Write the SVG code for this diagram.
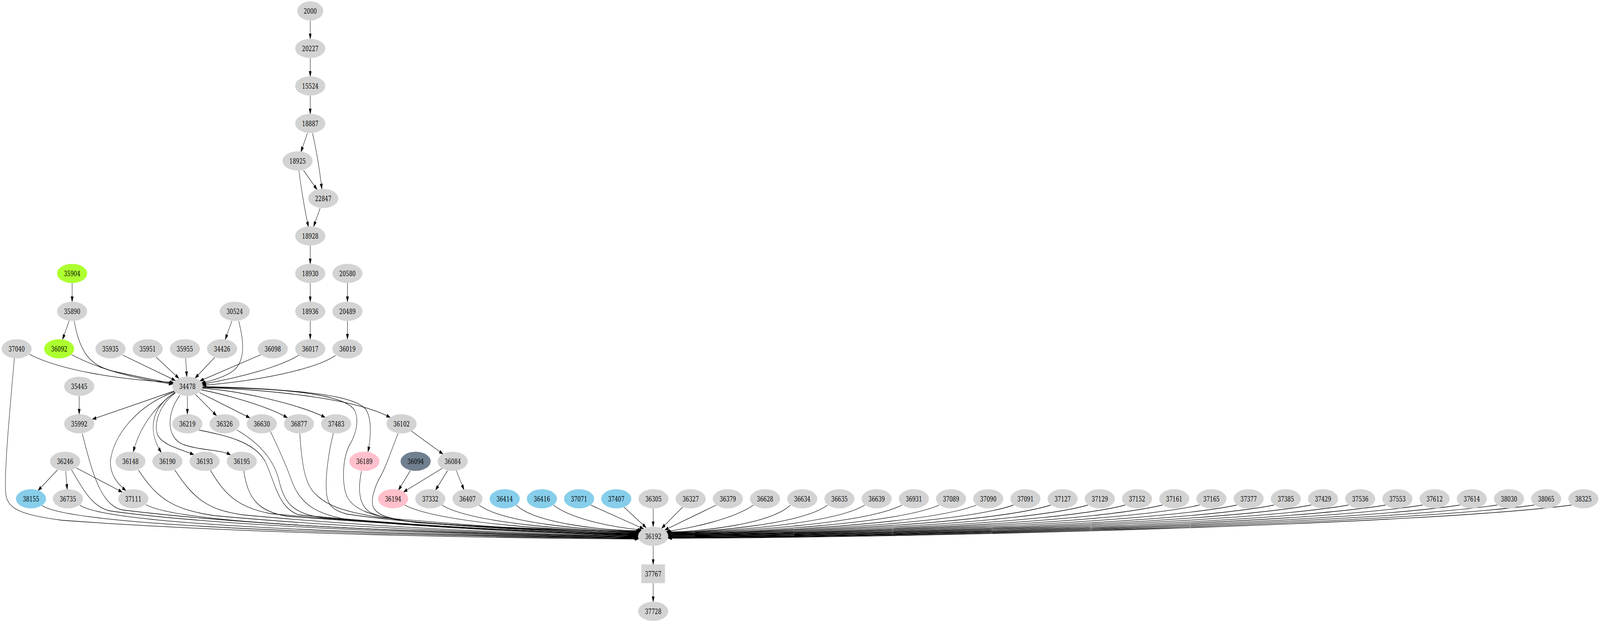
<svg xmlns="http://www.w3.org/2000/svg" width="5678" height="1595" viewBox="0 0 5678 1595" preserveAspectRatio="none">
<style>
svg{width:100vw;height:100vh}
ellipse,rect{stroke:none}
.gy{fill:#d3d3d3}.pk{fill:#ffc0cb}.sb{fill:#87ceeb}.gr{fill:#adff2f}.sl{fill:#708090}
text{font-family:"DejaVu Serif","Liberation Serif","Times New Roman",serif;font-size:18.7px;text-anchor:middle;fill:#000}
</style>
<defs>
<marker id="a" viewBox="0 0 13.5 9" markerWidth="13.5" markerHeight="9" refX="13.5" refY="4.5" orient="auto" markerUnits="userSpaceOnUse"><path d="M0,0L13.5,4.5L0,9Z" fill="#000" stroke="#000" stroke-width="0.8"/></marker>
</defs>
<rect width="5678" height="1595" fill="#fff"/>
<g id="edges" fill="none" stroke="#000" stroke-width="1.3" marker-end="url(#a)">
<path d="M1101,52.5L1101,99.5"/>
<path d="M1101,148.5L1101,195.5"/>
<path d="M1101,244.5L1101,291.5"/>
<path d="M1091,341L1068,389"/>
<path d="M1109,341C1120,375 1134,430 1142,484"/>
<path d="M1077,436L1125,485.5"/>
<path d="M1061,437C1068,480 1082,540 1094.5,581"/>
<path d="M1136,533L1113,580"/>
<path d="M1101,628.5L1101,675.5"/>
<path d="M1101,724.5L1101,772.5"/>
<path d="M1101,821.5L1101,868.5"/>
<path d="M1233,724.5L1233,772.5"/>
<path d="M1233,821.5L1233,868.5"/>
<path d="M256,724.5L256,772.5"/>
<path d="M245.5,821.5L222,869"/>
<path d="M263,822C285,905 320,935 400,950C480,963 560,975 614,981.5"/>
<path d="M254,908C350,945 480,970 613,983.5"/>
<path d="M104,907C220,950 430,972 616,979"/>
<path d="M435,909L622.4,974.2"/>
<path d="M553.6,914L634.9,968.7"/>
<path d="M658.8,917.5L662.9,964.5"/>
<path d="M762,915L692.5,968"/>
<path d="M822.7,821.7L799.5,869"/>
<path d="M847,822C868,880 868,925 830,948C800,965 750,975 715,980.5"/>
<path d="M926,908L709.3,975.3"/>
<path d="M1061,909C1000,937 860,966 717,983.5"/>
<path d="M1191,910C1120,945 920,975 718,986.5"/>
<path d="M281,1013.5L281,1060.5"/>
<path d="M665,1013.5L665,1060.5"/>
<path d="M618.6,1001L328,1073.3"/>
<path d="M694,1010L768.5,1064.3"/>
<path d="M708,1005L887,1069.8"/>
<path d="M714,998C800,1010 950,1040 1020,1069.5"/>
<path d="M717,994C850,1000 1060,1035 1154,1068.5"/>
<path d="M719,992C900,996 1250,1015 1385,1069"/>
<path d="M719,991C980,995 1260,1005 1300,1050C1320,1075 1316,1120 1306,1157"/>
<path d="M622,1004C570,1030 500,1080 473,1157"/>
<path d="M622,1005C540,1040 520,1100 572.6,1158.5"/>
<path d="M622,1006C560,1040 545,1090 560,1115C580,1140 640,1150 688,1164"/>
<path d="M638,1012C590,1060 590,1120 650,1138C720,1155 780,1150 818.4,1164.5"/>
<path d="M619,1003C480,1040 400,1120 392,1180C390,1210 410,1235 447,1256"/>
<path d="M204,1203L135,1256"/>
<path d="M233,1206L238.5,1253"/>
<path d="M271,1198L434,1260"/>
<path d="M1459,1103L1572,1162.5"/>
<path d="M1456,1205L1414,1255"/>
<path d="M1569.5,1199L1432,1259.5"/>
<path d="M1588,1205L1545.5,1255"/>
<path d="M1619.5,1205L1646.5,1254"/>
<path d="M51,917C35,1050 15,1200 20,1262C25,1302 70,1318 220,1332C900,1368 1800,1378 2266,1380"/>
<path d="M149,1294C220,1332 800,1366 2266,1379"/>
<path d="M283,1293C350,1330 900,1364 2265,1378"/>
<path d="M254,1203C300,1260 330,1298 390,1308C800,1350 1700,1372 2265,1377"/>
<path d="M292,1110C330,1220 360,1290 430,1305C900,1348 1700,1370 2265,1376"/>
<path d="M518,1292C600,1326 1000,1356 2265,1375"/>
<path d="M491,1203C560,1280 620,1305 760,1320C1200,1350 1800,1368 2264,1374"/>
<path d="M620,1203C690,1280 740,1305 860,1318C1300,1348 1800,1366 2264,1373"/>
<path d="M746,1203C800,1270 850,1300 960,1315C1400,1345 1850,1364 2264,1372"/>
<path d="M865,1205C880,1280 920,1310 1020,1322C1450,1345 1900,1363 2265,1371"/>
<path d="M706,1101C800,1115 900,1130 940,1180C975,1230 985,1300 1060,1318C1450,1345 1900,1362 2265,1370"/>
<path d="M841,1101C910,1130 970,1170 990,1230C1010,1290 1040,1315 1150,1326C1550,1350 1900,1362 2265,1369"/>
<path d="M960,1105C990,1150 1020,1200 1040,1240C1070,1290 1120,1318 1250,1332C1700,1355 2000,1364 2266,1368"/>
<path d="M1064,1110C1070,1180 1080,1240 1120,1265C1160,1295 1220,1310 1350,1325C1750,1350 2000,1362 2266,1367"/>
<path d="M1183,1109C1165,1160 1155,1220 1158,1255C1160,1290 1175,1305 1230,1316C1500,1345 1900,1360 2267,1366"/>
<path d="M719,990C960,993 1220,1005 1258,1050C1275,1075 1265,1110 1240,1140C1215,1175 1212,1240 1232,1272C1255,1305 1320,1322 1450,1335C1800,1355 2050,1362 2267,1365"/>
<path d="M1283,1206C1270,1250 1272,1290 1310,1310C1360,1332 1500,1340 1700,1347C2000,1357 2150,1361 2268,1364"/>
<path d="M1413,1109C1390,1150 1370,1195 1350,1220C1330,1245 1318,1275 1322,1292C1330,1320 1380,1328 1480,1338C1800,1354 2050,1358 2269,1363"/>
<path d="M1436,1293C1561,1340 2020,1361 2270,1362"/>
<path d="M1568,1293C1673,1340 2060,1360 2271,1361"/>
<path d="M1700,1293C1786,1340 2101,1359 2273,1360"/>
<path d="M1832,1293C1898,1340 2141,1358 2274,1359"/>
<path d="M1964,1293C2020,1325 2150,1348 2277,1357"/>
<path d="M2096,1293L2284,1354"/>
<path d="M2214,1298L2293,1351"/>
<path d="M2318,1301.5L2318,1348.5"/>
<path d="M2423,1298L2348,1352.5"/>
<path d="M2542,1293L2359,1357"/>
<path d="M2674,1293C2600,1330 2450,1352 2364,1361"/>
<path d="M2805,1293C2739,1340 2498,1361 2366,1362"/>
<path d="M2937,1293C2851,1340 2538,1362 2367,1363"/>
<path d="M3069,1293C2964,1340 2578,1362 2367,1363.5"/>
<path d="M3201,1293C3076,1340 2618,1363 2368,1364"/>
<path d="M3333,1293C3188,1340 2658,1364 2369,1365"/>
<path d="M3465,1293C3301,1340 2698,1365 2369,1366"/>
<path d="M3597,1293C3413,1340 2738,1365 2370,1366.5"/>
<path d="M3729,1293C3525,1340 2778,1366 2370,1367"/>
<path d="M3861,1293C3637,1340 2818,1367 2370,1368"/>
<path d="M3993,1293C3750,1340 2857,1368 2371,1369"/>
<path d="M4125,1293C3862,1340 2897,1368.5 2371,1369.5"/>
<path d="M4257,1293C3974,1340 2937,1369 2371,1370"/>
<path d="M4389,1293C4086,1340 2977,1370 2371,1371"/>
<path d="M4521,1293C4199,1340 3016,1371 2371,1372"/>
<path d="M4653,1293C4311,1340 3056,1371.5 2371.5,1372.5"/>
<path d="M4785,1293C4423,1340 3096,1372 2371.5,1373"/>
<path d="M4917,1293C4535,1340 3135,1373 2371.5,1374"/>
<path d="M5049,1293C4647,1340 3175,1374 2371.5,1375"/>
<path d="M5181,1293C4760,1340 3214,1374.5 2371,1375.5"/>
<path d="M5313,1293C4872,1340 3254,1375 2371,1376"/>
<path d="M5445,1293C4984,1340 3293,1376 2371,1377"/>
<path d="M5577,1293C5096,1340 3333,1377 2371,1378"/>
<path d="M2318,1397.5L2318,1445"/>
<path d="M2318,1493L2318,1540.5"/>
</g>
<g id="n2000"><ellipse class="gy" cx="1101" cy="28" rx="46" ry="24.5"/><text x="1101" y="34.7" textLength="46.5" lengthAdjust="spacingAndGlyphs">2000</text></g>
<g id="n20227"><ellipse class="gy" cx="1101" cy="124" rx="53.5" ry="24.5"/><text x="1101" y="130.7" textLength="58" lengthAdjust="spacingAndGlyphs">20227</text></g>
<g id="n15524"><ellipse class="gy" cx="1101" cy="220" rx="53.5" ry="24.5"/><text x="1101" y="226.7" textLength="58" lengthAdjust="spacingAndGlyphs">15524</text></g>
<g id="n18887"><ellipse class="gy" cx="1101" cy="316" rx="53.5" ry="24.5"/><text x="1101" y="322.7" textLength="58" lengthAdjust="spacingAndGlyphs">18887</text></g>
<g id="n18925"><ellipse class="gy" cx="1056" cy="412" rx="53.5" ry="24.5"/><text x="1056" y="418.7" textLength="58" lengthAdjust="spacingAndGlyphs">18925</text></g>
<g id="n22847"><ellipse class="gy" cx="1147" cy="508" rx="53.5" ry="24.5"/><text x="1147" y="514.7" textLength="58" lengthAdjust="spacingAndGlyphs">22847</text></g>
<g id="n18928"><ellipse class="gy" cx="1101" cy="604" rx="53.5" ry="24.5"/><text x="1101" y="610.7" textLength="58" lengthAdjust="spacingAndGlyphs">18928</text></g>
<g id="n35904"><ellipse class="gr" cx="256" cy="700" rx="53.5" ry="24.5"/><text x="256" y="706.7" textLength="58" lengthAdjust="spacingAndGlyphs">35904</text></g>
<g id="n18930"><ellipse class="gy" cx="1101" cy="700" rx="53.5" ry="24.5"/><text x="1101" y="706.7" textLength="58" lengthAdjust="spacingAndGlyphs">18930</text></g>
<g id="n20580"><ellipse class="gy" cx="1233" cy="700" rx="53.5" ry="24.5"/><text x="1233" y="706.7" textLength="58" lengthAdjust="spacingAndGlyphs">20580</text></g>
<g id="n35890"><ellipse class="gy" cx="256" cy="797" rx="53.5" ry="24.5"/><text x="256" y="803.7" textLength="58" lengthAdjust="spacingAndGlyphs">35890</text></g>
<g id="n30524"><ellipse class="gy" cx="833" cy="797" rx="53.5" ry="24.5"/><text x="833" y="803.7" textLength="58" lengthAdjust="spacingAndGlyphs">30524</text></g>
<g id="n18936"><ellipse class="gy" cx="1101" cy="797" rx="53.5" ry="24.5"/><text x="1101" y="803.7" textLength="58" lengthAdjust="spacingAndGlyphs">18936</text></g>
<g id="n20489"><ellipse class="gy" cx="1233" cy="797" rx="53.5" ry="24.5"/><text x="1233" y="803.7" textLength="58" lengthAdjust="spacingAndGlyphs">20489</text></g>
<g id="n37040"><ellipse class="gy" cx="59" cy="893" rx="53.5" ry="24.5"/><text x="59" y="899.7" textLength="58" lengthAdjust="spacingAndGlyphs">37040</text></g>
<g id="n36092"><ellipse class="gr" cx="210" cy="893" rx="53.5" ry="24.5"/><text x="210" y="899.7" textLength="58" lengthAdjust="spacingAndGlyphs">36092</text></g>
<g id="n35935"><ellipse class="gy" cx="392" cy="893" rx="53.5" ry="24.5"/><text x="392" y="899.7" textLength="58" lengthAdjust="spacingAndGlyphs">35935</text></g>
<g id="n35951"><ellipse class="gy" cx="524" cy="893" rx="53.5" ry="24.5"/><text x="524" y="899.7" textLength="58" lengthAdjust="spacingAndGlyphs">35951</text></g>
<g id="n35955"><ellipse class="gy" cx="656" cy="893" rx="53.5" ry="24.5"/><text x="656" y="899.7" textLength="58" lengthAdjust="spacingAndGlyphs">35955</text></g>
<g id="n34426"><ellipse class="gy" cx="788" cy="893" rx="53.5" ry="24.5"/><text x="788" y="899.7" textLength="58" lengthAdjust="spacingAndGlyphs">34426</text></g>
<g id="n36098"><ellipse class="gy" cx="968" cy="893" rx="53.5" ry="24.5"/><text x="968" y="899.7" textLength="58" lengthAdjust="spacingAndGlyphs">36098</text></g>
<g id="n36017"><ellipse class="gy" cx="1101" cy="893" rx="53.5" ry="24.5"/><text x="1101" y="899.7" textLength="58" lengthAdjust="spacingAndGlyphs">36017</text></g>
<g id="n36019"><ellipse class="gy" cx="1233" cy="893" rx="53.5" ry="24.5"/><text x="1233" y="899.7" textLength="58" lengthAdjust="spacingAndGlyphs">36019</text></g>
<g id="n35445"><ellipse class="gy" cx="281" cy="989" rx="53.5" ry="24.5"/><text x="281" y="995.7" textLength="58" lengthAdjust="spacingAndGlyphs">35445</text></g>
<g id="n34478"><ellipse class="gy" cx="665" cy="989" rx="53.5" ry="24.5"/><text x="665" y="995.7" textLength="58" lengthAdjust="spacingAndGlyphs">34478</text></g>
<g id="n35992"><ellipse class="gy" cx="281" cy="1085" rx="53.5" ry="24.5"/><text x="281" y="1091.7" textLength="58" lengthAdjust="spacingAndGlyphs">35992</text></g>
<g id="n36219"><ellipse class="gy" cx="665" cy="1085" rx="53.5" ry="24.5"/><text x="665" y="1091.7" textLength="58" lengthAdjust="spacingAndGlyphs">36219</text></g>
<g id="n36326"><ellipse class="gy" cx="797" cy="1085" rx="53.5" ry="24.5"/><text x="797" y="1091.7" textLength="58" lengthAdjust="spacingAndGlyphs">36326</text></g>
<g id="n36630"><ellipse class="gy" cx="929" cy="1085" rx="53.5" ry="24.5"/><text x="929" y="1091.7" textLength="58" lengthAdjust="spacingAndGlyphs">36630</text></g>
<g id="n36877"><ellipse class="gy" cx="1061" cy="1085" rx="53.5" ry="24.5"/><text x="1061" y="1091.7" textLength="58" lengthAdjust="spacingAndGlyphs">36877</text></g>
<g id="n37483"><ellipse class="gy" cx="1193" cy="1085" rx="53.5" ry="24.5"/><text x="1193" y="1091.7" textLength="58" lengthAdjust="spacingAndGlyphs">37483</text></g>
<g id="n36102"><ellipse class="gy" cx="1425" cy="1085" rx="53.5" ry="24.5"/><text x="1425" y="1091.7" textLength="58" lengthAdjust="spacingAndGlyphs">36102</text></g>
<g id="n36246"><ellipse class="gy" cx="231" cy="1181" rx="53.5" ry="24.5"/><text x="231" y="1187.7" textLength="58" lengthAdjust="spacingAndGlyphs">36246</text></g>
<g id="n36148"><ellipse class="gy" cx="463" cy="1181" rx="53.5" ry="24.5"/><text x="463" y="1187.7" textLength="58" lengthAdjust="spacingAndGlyphs">36148</text></g>
<g id="n36190"><ellipse class="gy" cx="594" cy="1181" rx="53.5" ry="24.5"/><text x="594" y="1187.7" textLength="58" lengthAdjust="spacingAndGlyphs">36190</text></g>
<g id="n36193"><ellipse class="gy" cx="726" cy="1181" rx="53.5" ry="24.5"/><text x="726" y="1187.7" textLength="58" lengthAdjust="spacingAndGlyphs">36193</text></g>
<g id="n36195"><ellipse class="gy" cx="858" cy="1181" rx="53.5" ry="24.5"/><text x="858" y="1187.7" textLength="58" lengthAdjust="spacingAndGlyphs">36195</text></g>
<g id="n36189"><ellipse class="pk" cx="1293" cy="1181" rx="53.5" ry="24.5"/><text x="1293" y="1187.7" textLength="58" lengthAdjust="spacingAndGlyphs">36189</text></g>
<g id="n36094"><ellipse class="sl" cx="1475" cy="1181" rx="53.5" ry="24.5"/><text x="1475" y="1187.7" textLength="58" lengthAdjust="spacingAndGlyphs">36094</text></g>
<g id="n36084"><ellipse class="gy" cx="1606.5" cy="1181" rx="53.5" ry="24.5"/><text x="1606.5" y="1187.7" textLength="58" lengthAdjust="spacingAndGlyphs">36084</text></g>
<g id="n38155"><ellipse class="sb" cx="110" cy="1277" rx="53.5" ry="24.5"/><text x="110" y="1283.7" textLength="58" lengthAdjust="spacingAndGlyphs">38155</text></g>
<g id="n36735"><ellipse class="gy" cx="241" cy="1277" rx="53.5" ry="24.5"/><text x="241" y="1283.7" textLength="58" lengthAdjust="spacingAndGlyphs">36735</text></g>
<g id="n37111"><ellipse class="gy" cx="473" cy="1277" rx="53.5" ry="24.5"/><text x="473" y="1283.7" textLength="58" lengthAdjust="spacingAndGlyphs">37111</text></g>
<g id="n36194"><ellipse class="pk" cx="1395" cy="1277" rx="53.5" ry="24.5"/><text x="1395" y="1283.7" textLength="58" lengthAdjust="spacingAndGlyphs">36194</text></g>
<g id="n37332"><ellipse class="gy" cx="1527" cy="1277" rx="53.5" ry="24.5"/><text x="1527" y="1283.7" textLength="58" lengthAdjust="spacingAndGlyphs">37332</text></g>
<g id="n36407"><ellipse class="gy" cx="1659" cy="1277" rx="53.5" ry="24.5"/><text x="1659" y="1283.7" textLength="58" lengthAdjust="spacingAndGlyphs">36407</text></g>
<g id="n36414"><ellipse class="sb" cx="1791" cy="1277" rx="53.5" ry="24.5"/><text x="1791" y="1283.7" textLength="58" lengthAdjust="spacingAndGlyphs">36414</text></g>
<g id="n36416"><ellipse class="sb" cx="1923" cy="1277" rx="53.5" ry="24.5"/><text x="1923" y="1283.7" textLength="58" lengthAdjust="spacingAndGlyphs">36416</text></g>
<g id="n37071"><ellipse class="sb" cx="2055" cy="1277" rx="53.5" ry="24.5"/><text x="2055" y="1283.7" textLength="58" lengthAdjust="spacingAndGlyphs">37071</text></g>
<g id="n37407"><ellipse class="sb" cx="2187" cy="1277" rx="53.5" ry="24.5"/><text x="2187" y="1283.7" textLength="58" lengthAdjust="spacingAndGlyphs">37407</text></g>
<g id="n36305"><ellipse class="gy" cx="2319" cy="1277" rx="53.5" ry="24.5"/><text x="2319" y="1283.7" textLength="58" lengthAdjust="spacingAndGlyphs">36305</text></g>
<g id="n36327"><ellipse class="gy" cx="2451" cy="1277" rx="53.5" ry="24.5"/><text x="2451" y="1283.7" textLength="58" lengthAdjust="spacingAndGlyphs">36327</text></g>
<g id="n36379"><ellipse class="gy" cx="2583" cy="1277" rx="53.5" ry="24.5"/><text x="2583" y="1283.7" textLength="58" lengthAdjust="spacingAndGlyphs">36379</text></g>
<g id="n36628"><ellipse class="gy" cx="2715" cy="1277" rx="53.5" ry="24.5"/><text x="2715" y="1283.7" textLength="58" lengthAdjust="spacingAndGlyphs">36628</text></g>
<g id="n36634"><ellipse class="gy" cx="2847" cy="1277" rx="53.5" ry="24.5"/><text x="2847" y="1283.7" textLength="58" lengthAdjust="spacingAndGlyphs">36634</text></g>
<g id="n36635"><ellipse class="gy" cx="2979" cy="1277" rx="53.5" ry="24.5"/><text x="2979" y="1283.7" textLength="58" lengthAdjust="spacingAndGlyphs">36635</text></g>
<g id="n36639"><ellipse class="gy" cx="3111" cy="1277" rx="53.5" ry="24.5"/><text x="3111" y="1283.7" textLength="58" lengthAdjust="spacingAndGlyphs">36639</text></g>
<g id="n36931"><ellipse class="gy" cx="3243" cy="1277" rx="53.5" ry="24.5"/><text x="3243" y="1283.7" textLength="58" lengthAdjust="spacingAndGlyphs">36931</text></g>
<g id="n37089"><ellipse class="gy" cx="3375" cy="1277" rx="53.5" ry="24.5"/><text x="3375" y="1283.7" textLength="58" lengthAdjust="spacingAndGlyphs">37089</text></g>
<g id="n37090"><ellipse class="gy" cx="3507" cy="1277" rx="53.5" ry="24.5"/><text x="3507" y="1283.7" textLength="58" lengthAdjust="spacingAndGlyphs">37090</text></g>
<g id="n37091"><ellipse class="gy" cx="3639" cy="1277" rx="53.5" ry="24.5"/><text x="3639" y="1283.7" textLength="58" lengthAdjust="spacingAndGlyphs">37091</text></g>
<g id="n37127"><ellipse class="gy" cx="3771" cy="1277" rx="53.5" ry="24.5"/><text x="3771" y="1283.7" textLength="58" lengthAdjust="spacingAndGlyphs">37127</text></g>
<g id="n37129"><ellipse class="gy" cx="3903" cy="1277" rx="53.5" ry="24.5"/><text x="3903" y="1283.7" textLength="58" lengthAdjust="spacingAndGlyphs">37129</text></g>
<g id="n37152"><ellipse class="gy" cx="4035" cy="1277" rx="53.5" ry="24.5"/><text x="4035" y="1283.7" textLength="58" lengthAdjust="spacingAndGlyphs">37152</text></g>
<g id="n37161"><ellipse class="gy" cx="4167" cy="1277" rx="53.5" ry="24.5"/><text x="4167" y="1283.7" textLength="58" lengthAdjust="spacingAndGlyphs">37161</text></g>
<g id="n37165"><ellipse class="gy" cx="4299" cy="1277" rx="53.5" ry="24.5"/><text x="4299" y="1283.7" textLength="58" lengthAdjust="spacingAndGlyphs">37165</text></g>
<g id="n37377"><ellipse class="gy" cx="4431" cy="1277" rx="53.5" ry="24.5"/><text x="4431" y="1283.7" textLength="58" lengthAdjust="spacingAndGlyphs">37377</text></g>
<g id="n37385"><ellipse class="gy" cx="4563" cy="1277" rx="53.5" ry="24.5"/><text x="4563" y="1283.7" textLength="58" lengthAdjust="spacingAndGlyphs">37385</text></g>
<g id="n37429"><ellipse class="gy" cx="4695" cy="1277" rx="53.5" ry="24.5"/><text x="4695" y="1283.7" textLength="58" lengthAdjust="spacingAndGlyphs">37429</text></g>
<g id="n37536"><ellipse class="gy" cx="4827" cy="1277" rx="53.5" ry="24.5"/><text x="4827" y="1283.7" textLength="58" lengthAdjust="spacingAndGlyphs">37536</text></g>
<g id="n37553"><ellipse class="gy" cx="4959" cy="1277" rx="53.5" ry="24.5"/><text x="4959" y="1283.7" textLength="58" lengthAdjust="spacingAndGlyphs">37553</text></g>
<g id="n37612"><ellipse class="gy" cx="5091" cy="1277" rx="53.5" ry="24.5"/><text x="5091" y="1283.7" textLength="58" lengthAdjust="spacingAndGlyphs">37612</text></g>
<g id="n37614"><ellipse class="gy" cx="5223" cy="1277" rx="53.5" ry="24.5"/><text x="5223" y="1283.7" textLength="58" lengthAdjust="spacingAndGlyphs">37614</text></g>
<g id="n38030"><ellipse class="gy" cx="5355" cy="1277" rx="53.5" ry="24.5"/><text x="5355" y="1283.7" textLength="58" lengthAdjust="spacingAndGlyphs">38030</text></g>
<g id="n38065"><ellipse class="gy" cx="5487" cy="1277" rx="53.5" ry="24.5"/><text x="5487" y="1283.7" textLength="58" lengthAdjust="spacingAndGlyphs">38065</text></g>
<g id="n38325"><ellipse class="gy" cx="5619" cy="1277" rx="53.5" ry="24.5"/><text x="5619" y="1283.7" textLength="58" lengthAdjust="spacingAndGlyphs">38325</text></g>
<g id="n36192"><ellipse class="gy" cx="2318" cy="1373" rx="53.5" ry="24.5"/><text x="2318" y="1379.7" textLength="58" lengthAdjust="spacingAndGlyphs">36192</text></g>
<g id="n37767"><rect class="gy" x="2276" y="1445" width="84" height="48"/><text x="2318" y="1475.7" textLength="58" lengthAdjust="spacingAndGlyphs">37767</text></g>
<g id="n37728"><ellipse class="gy" cx="2318" cy="1565" rx="53.5" ry="24.5"/><text x="2318" y="1571.7" textLength="58" lengthAdjust="spacingAndGlyphs">37728</text></g>
</svg>
